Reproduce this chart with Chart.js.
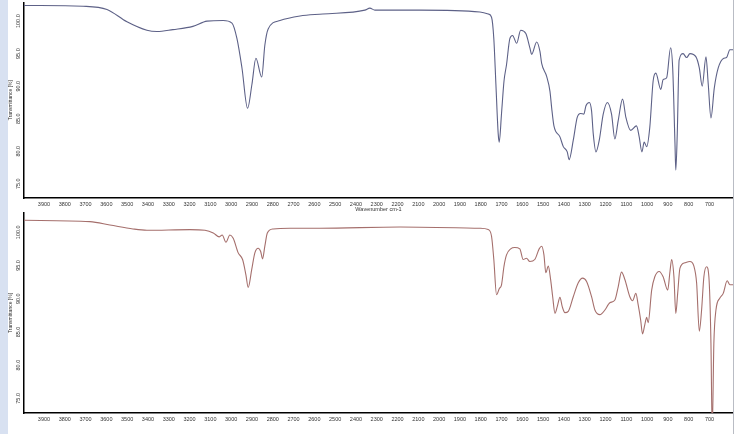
<!DOCTYPE html>
<html lang="en">
<head>
  <meta charset="utf-8">
  <title>IR spectra</title>
  <script src="https://cdn.jsdelivr.net/npm/chart.js"></script>
  <style>
    body { margin: 0; width: 736px; height: 434px; overflow: hidden; background: #fff; position: relative; }
    .frame { position: absolute; left: 0; top: 0; width: 8px; height: 434px; background: #d8e1f1; }
    .edge { position: absolute; left: 733px; top: 0; width: 1px; height: 434px; background: #b9bcc4; }
    .panel { position: absolute; left: 8px; width: 728px; }
  </style>
</head>
<body>
<div class="frame"></div>
<div class="panel" style="top:0; height:213px;"><canvas id="topChart"></canvas></div>
<div class="panel" style="top:206px; height:222px;"><canvas id="bottomChart"></canvas></div>
<div class="edge"></div>

<script>
// wavenumber (cm-1) / transmittance (%)
const topWn = [3996,3919,3712,3597,3501,3405,3357,3280,3184,3116,3039,2996,2972,2948,2921,2900,2881,2853,2838,2822,2765,2669,2559,2357,2333,2309,2092,1804,1764,1748,1737,1727,1716,1711,1700,1688,1676,1660,1647,1627,1608,1583,1563,1555,1531,1515,1507,1483,1467,1459,1448,1419,1403,1384,1375,1355,1336,1320,1304,1294,1278,1267,1259,1246,1230,1211,1191,1171,1155,1139,1118,1102,1079,1051,1038,1025,1014,1002,987,971,958,934,923,906,887,877,866,862,855,846,827,810,794,765,749,735,717,706,693,677,658,631,618,602,586];
const topT = [102.4,102.4,102.3,101.8,99.9,98.6,98.4,98.7,99.2,100.0,100.1,99.7,97.3,92.8,86.6,90.3,94.3,91.4,96.3,98.8,100.1,100.8,101.1,101.7,102.0,101.7,101.7,101.4,101.1,100.6,97.3,90.3,82.7,81.4,85.8,90.8,93.3,97.3,97.8,96.6,98.6,98.1,95.8,94.9,96.8,95.3,93.5,91.5,89.2,86.7,83.9,82.2,80.7,79.9,78.7,81.7,85.2,85.8,85.7,87.0,87.5,86.2,82.7,79.9,81.7,85.7,87.5,85.7,81.9,84.7,88.0,85.2,83.2,83.9,82.2,79.9,81.4,80.7,83.7,90.8,92.0,89.5,91.0,91.3,95.9,92.8,81.2,77.1,82.7,94.0,95.0,94.4,95.0,94.5,92.8,90.0,94.5,90.3,85.1,89.7,92.8,94.3,94.4,95.6,95.6];

const botWn = [3996,3679,3583,3472,3405,3198,3126,3086,3057,3043,3025,3006,2990,2966,2945,2929,2918,2901,2886,2870,2858,2849,2838,2826,2798,2717,2573,2188,1804,1764,1748,1737,1724,1711,1700,1688,1676,1656,1636,1612,1596,1580,1564,1540,1519,1507,1496,1487,1475,1464,1454,1443,1432,1419,1408,1395,1379,1355,1331,1310,1291,1267,1251,1227,1203,1187,1179,1155,1139,1123,1107,1083,1070,1054,1043,1031,1022,1011,1002,995,978,963,942,923,901,890,882,871,862,853,842,818,794,775,762,749,738,727,714,703,693,687,679,669,650,634,615,602,587];
const botT = [101.8,101.6,101.1,100.5,100.3,100.4,100.3,99.9,99.3,99.6,98.5,99.6,99.1,96.9,95.9,93.6,91.7,94.4,96.9,97.6,97.1,96.0,97.9,99.9,100.5,100.6,100.6,100.8,100.6,100.4,99.4,95.9,90.6,91.5,92.1,94.9,96.6,97.5,97.7,97.5,95.9,96.1,95.6,95.9,97.5,97.9,96.6,93.9,94.9,92.9,90.3,87.8,88.8,90.2,88.8,87.9,88.1,90.3,92.4,93.1,92.6,90.3,88.3,87.6,88.3,89.1,89.4,89.8,91.8,94.0,92.9,90.3,89.7,90.8,89.1,86.8,84.7,86.1,87.2,86.4,91.3,93.3,94.1,93.3,91.3,94.1,95.9,93.3,87.8,90.8,94.6,95.4,95.6,94.9,92.4,85.1,88.3,93.3,94.8,93.3,83.3,70.0,83.3,88.3,90.1,90.8,92.7,92.1,92.1];

// axis ranges and tick labels
const wnRange = [587, 3996];
const wnTicks = [3900,3800,3700,3600,3500,3400,3300,3200,3100,3000,2900,2800,2700,2600,2500,2400,2300,2200,2100,2000,1900,1800,1700,1600,1500,1400,1300,1200,1100,1000,900,800,700];
const tRange = [72.8, 102.9];
const tTicks = [75, 80, 85, 90, 95, 100];
const xTitle = 'Wavenumber cm-1';
const yTitle = 'Transmittance [%]';

const tickFont = { family: 'Liberation Sans', size: 5.5 };

function makeChart(id, wn, t, color, showXTitle, padTop) {
  const points = wn.map((w, i) => ({ x: w, y: t[i] }));
  return new Chart(document.getElementById(id), {
    type: 'line',
    data: {
      datasets: [{
        data: points,
        borderColor: color,
        borderWidth: 1.1,
        pointRadius: 0,
        tension: 0.3,
        cubicInterpolationMode: 'monotone',
        fill: false
      }]
    },
    options: {
      animation: false,
      responsive: true,
      maintainAspectRatio: false,
      layout: { padding: { top: padTop, right: 3, left: 0, bottom: 0 } },
      plugins: { legend: { display: false }, tooltip: { enabled: false } },
      scales: {
        x: {
          type: 'linear',
          reverse: true,
          min: wnRange[0],
          max: wnRange[1],
          grid: { display: false, drawTicks: false },
          border: { display: true, color: '#000', width: 1.5 },
          afterBuildTicks: s => { s.ticks = wnTicks.map(v => ({ value: v })); },
          ticks: {
            autoSkip: false,
            maxRotation: 0,
            padding: 3,
            color: '#333',
            font: tickFont,
            callback: v => String(v)
          },
          title: { display: showXTitle, text: xTitle, color: '#333', font: tickFont, padding: 0 },
          afterFit: s => { s.height = 15; }
        },
        y: {
          min: tRange[0],
          max: tRange[1],
          grid: { display: false, drawTicks: false },
          border: { display: true, color: '#000', width: 1.5 },
          afterBuildTicks: s => { s.ticks = tTicks.map(v => ({ value: v })); },
          ticks: {
            minRotation: 90,
            maxRotation: 90,
            crossAlign: 'center',
            padding: -1,
            color: '#333',
            font: tickFont,
            callback: v => v.toFixed(1)
          },
          title: { display: true, text: yTitle, color: '#333', font: { family: 'Liberation Sans', size: 5 }, padding: 0 },
          afterFit: s => { s.width = 16; }
        }
      }
    }
  });
}

makeChart('topChart', topWn, topT, '#5d6187', true, 0);
makeChart('bottomChart', botWn, botT, '#a56f6c', false, 7);
</script>
</body>
</html>
